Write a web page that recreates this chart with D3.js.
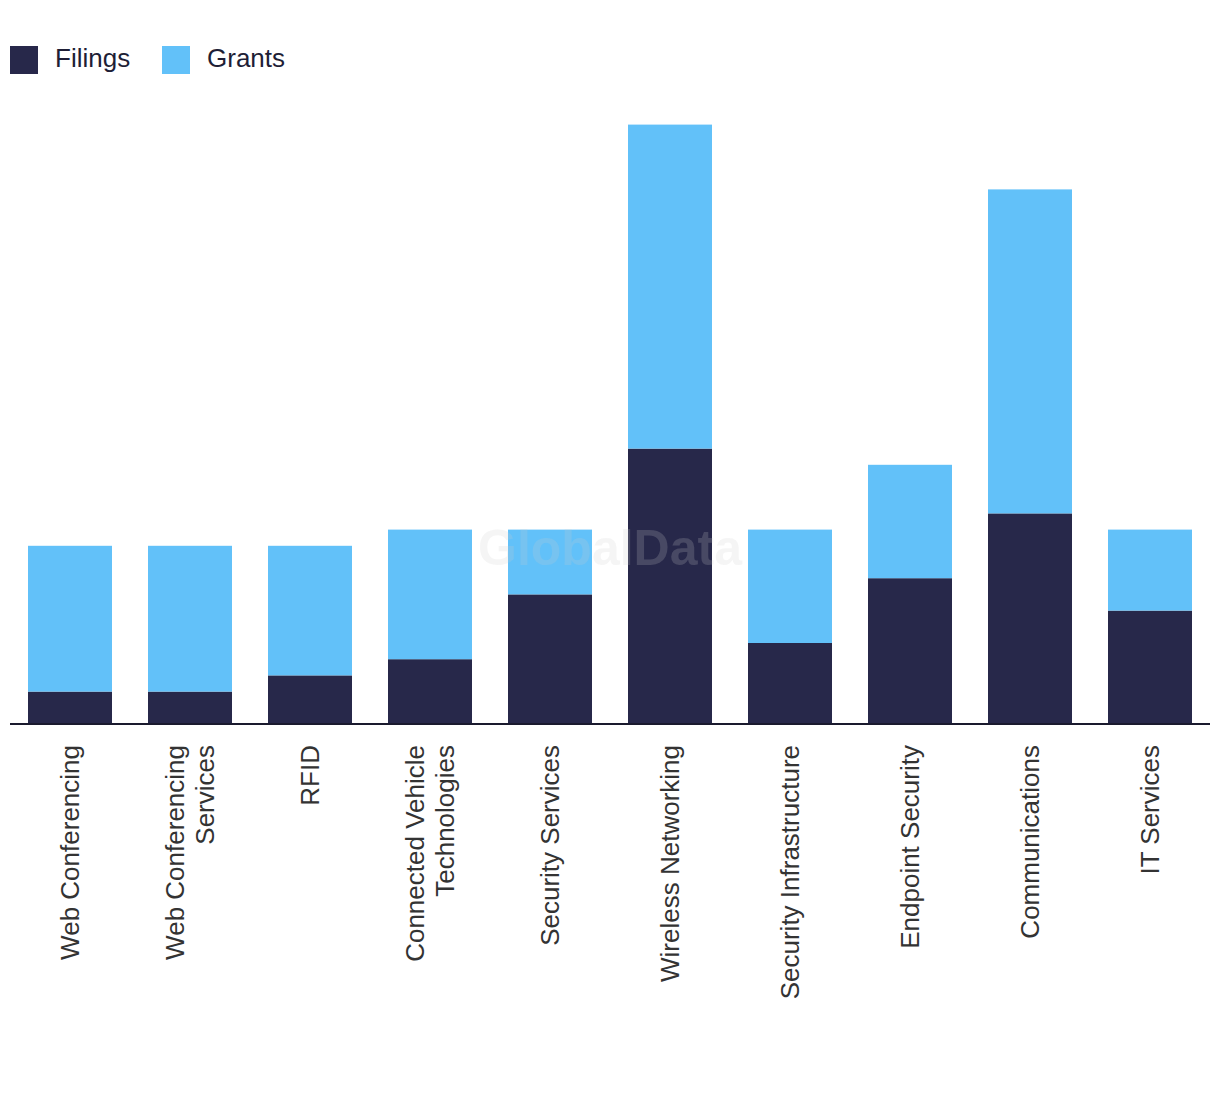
<!DOCTYPE html>
<html>
<head>
<meta charset="utf-8">
<script src="https://cdn.jsdelivr.net/npm/d3@7"></script>
<style>
  html, body { margin: 0; padding: 0; background: #fff; }
  svg { display: block; }
</style>
</head>
<body>
<svg id="chart" width="1220" height="1094"></svg>
<script>
const categories = [
  ["Web Conferencing"],
  ["Web Conferencing", "Services"],
  ["RFID"],
  ["Connected Vehicle", "Technologies"],
  ["Security Services"],
  ["Wireless Networking"],
  ["Security Infrastructure"],
  ["Endpoint Security"],
  ["Communications"],
  ["IT Services"]
];
const filings = [2, 2, 3, 4, 8, 17, 5, 9, 13, 7];
const grants  = [9, 9, 8, 8, 4, 20, 7, 7, 20, 5];
const seriesNames = ["Filings", "Grants"];
const colors = ["#27284a", "#62c1f9"];

const W = 1220, H = 1094;
const margin = { left: 10, right: 10, top: 76, bottom: 370 };
const svg = d3.select("#chart");

const keys = categories.map(c => c.join(" "));
const rows = keys.map((k, i) => ({ key: k, Filings: filings[i], Grants: grants[i] }));
const stack = d3.stack().keys(seriesNames)(rows);

const x = d3.scaleBand().domain(keys)
  .range([margin.left, W - margin.right])
  .paddingInner(0.3).paddingOuter(0.15);
const y = d3.scaleLinear().domain([0, 40]).range([H - margin.bottom, margin.top]);

const color = d3.scaleOrdinal().domain(seriesNames).range(colors);

svg.append("g").selectAll("g").data(stack).join("g")
  .attr("fill", d => color(d.key))
  .selectAll("rect").data(d => d).join("rect")
  .attr("x", d => x(d.data.key))
  .attr("width", x.bandwidth())
  .attr("y", d => y(d[1]))
  .attr("height", d => y(d[0]) - y(d[1]));

// watermark
svg.append("text")
  .attr("x", (margin.left + W - margin.right) / 2)
  .attr("y", 565)
  .attr("text-anchor", "middle")
  .attr("font-family", "Liberation Sans, Arial, sans-serif")
  .attr("font-weight", "bold")
  .attr("font-size", 50)
  .attr("fill", "#cecece")
  .attr("fill-opacity", 0.2)
  .text("GlobalData");

// axis
const axis = d3.axisBottom(x).tickSize(0).tickFormat("");
const gx = svg.append("g")
  .attr("transform", `translate(0,${y(0)})`)
  .call(axis);
gx.select(".domain").attr("stroke", "#1a1a2e").attr("stroke-width", 2)
  .attr("d", `M${margin.left},0H${W - margin.right}`);

// labels
const labels = svg.append("g").selectAll("text").data(categories).join("text")
  .attr("transform", (d, i) => `translate(${x(keys[i]) + x.bandwidth() / 2},745) rotate(-90)`)
  .attr("text-anchor", "end")
  .attr("font-family", "Liberation Sans, Arial, sans-serif")
  .attr("font-size", 26)
  .attr("fill", "#333");
labels.each(function(d) {
  const t = d3.select(this);
  const n = d.length;
  d.forEach((line, j) => {
    t.append("tspan")
      .attr("x", 0)
      .attr("y", (j - (n - 1) / 2) * 30)
      .attr("dy", "0.35em")
      .text(line);
  });
});

// legend
const legend = svg.append("g").selectAll("g").data(seriesNames).join("g")
  .attr("transform", (d, i) => `translate(${[10, 162][i]},46)`);
legend.append("rect").attr("width", 28).attr("height", 28).attr("fill", d => color(d));
legend.append("text")
  .attr("x", 45).attr("y", 21)
  .attr("font-family", "Liberation Sans, Arial, sans-serif")
  .attr("font-size", 26)
  .attr("fill", "#1e1e36")
  .text(d => d);
</script>
</body>
</html>
